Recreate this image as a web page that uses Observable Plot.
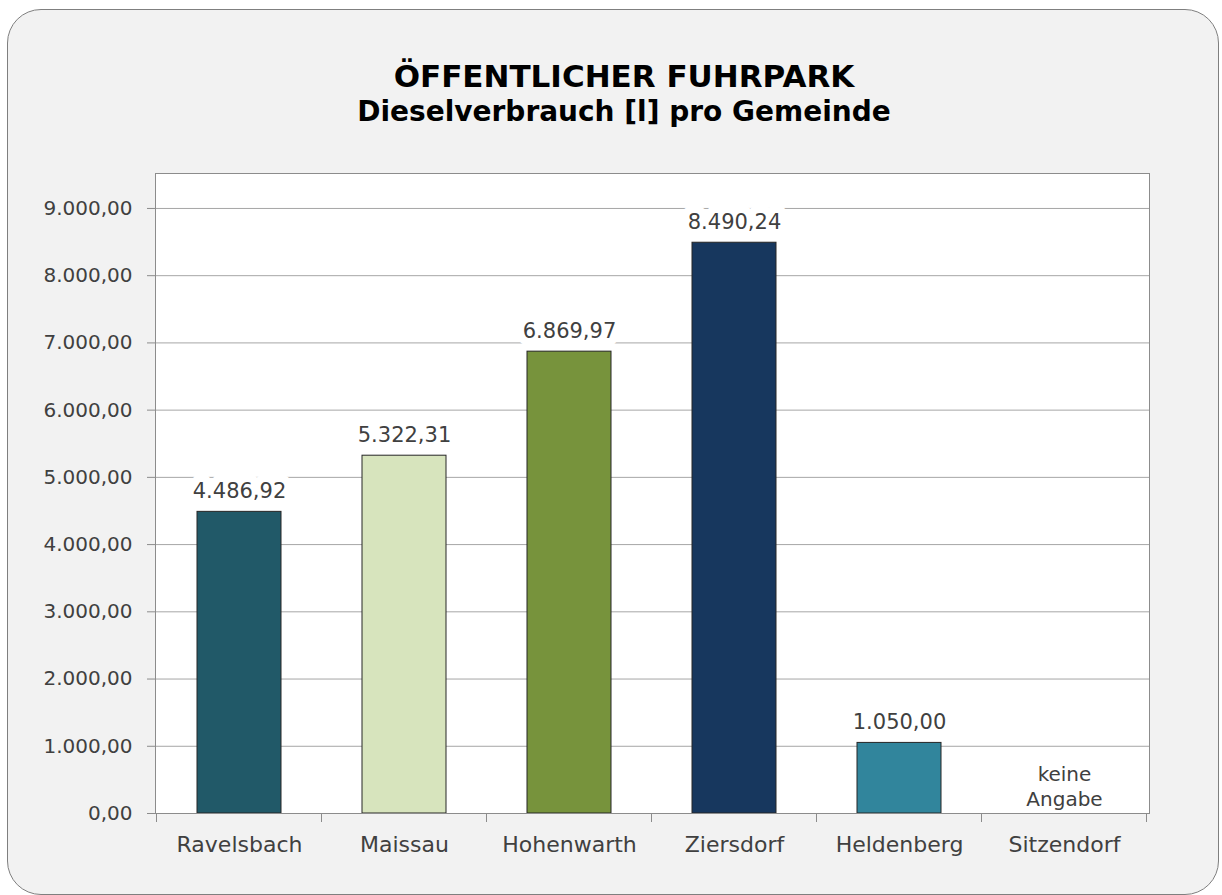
<!DOCTYPE html>
<html>
<head>
<meta charset="utf-8">
<script src="https://cdn.jsdelivr.net/npm/d3@7"></script>
<script src="https://cdn.jsdelivr.net/npm/@observablehq/plot@0.6"></script>
<style>
  html, body { margin: 0; padding: 0; background: #ffffff; }
  body { width: 1222px; height: 895px; position: relative; overflow: hidden; font-family: "DejaVu Sans", sans-serif; }
  #box { position: absolute; left: 7px; top: 9px; width: 1212px; height: 886px; background: #f2f2f2;
         border: 1.5px solid #7f7f7f; border-radius: 34px; box-sizing: border-box; }
  .title { position: absolute; left: 0; width: 1248px; text-align: center; color: #000; font-weight: bold; white-space: nowrap; }
  #t1 { top: 61px; font-size: 31px; line-height: 31px; }
  #t2 { top: 98px; font-size: 28px; line-height: 28px; }
  #chart { position: absolute; left: 0; top: 150px; }
</style>
</head>
<body>
<div id="box"></div>
<div class="title" id="t1">ÖFFENTLICHER FUHRPARK</div>
<div class="title" id="t2">Dieselverbrauch [l] pro Gemeinde</div>
<div id="chart"></div>
<script>
const names = ["Ravelsbach", "Maissau", "Hohenwarth", "Ziersdorf", "Heldenberg", "Sitzendorf"];
const values = [4486.92, 5322.31, 6869.97, 8490.24, 1050.00, null];
const yTicks = [0, 1000, 2000, 3000, 4000, 5000, 6000, 7000, 8000, 9000];
const noDataLabel = "keine\nAngabe";
const palette = ["#215968", "#d7e4bd", "#77933c", "#17375e", "#31859c", "#bfbfbf"];

const de = d3.formatLocale({decimal: ",", thousands: ".", grouping: [3], currency: ["", " €"]});
const fmt = de.format(",.2f");

const rows = names.map((name, i) => ({name, value: values[i]}));
const withValue = rows.filter(d => d.value != null);
const noValue = rows.filter(d => d.value == null);

function boundaryTicks(index, scales, vals, dims) {
  const x = scales.x;
  const step = x.step();
  const gap = (step - x.bandwidth()) / 2;
  const y0 = dims.height - dims.marginBottom;
  const xs = names.map(n => x(n) - gap);
  xs.push(x(names[names.length - 1]) + x.bandwidth() + gap);
  const g = d3.create("svg:g");
  g.selectAll("line").data(xs).join("line")
    .attr("x1", d => d).attr("x2", d => d)
    .attr("y1", y0).attr("y2", y0 + 9)
    .attr("stroke", "#8c8c8c").attr("stroke-width", 1);
  return g.node();
}

const plot = Plot.plot({
  width: 1222,
  height: 745,
  marginTop: 23,
  marginBottom: 82,
  marginLeft: 155,
  marginRight: 73,
  style: {background: "transparent", fontFamily: "DejaVu Sans, sans-serif", color: "#404040"},
  x: {domain: names, paddingInner: 0.49, paddingOuter: 0.245, axis: null, label: null},
  y: {domain: [0, 9520], axis: null, label: null},
  color: {domain: names, range: palette},
  marks: [
    Plot.frame({fill: "white"}),
    Plot.gridY(yTicks, {stroke: "#a6a6a6", strokeOpacity: 1}),
    Plot.barY(withValue, {x: "name", y: "value", fill: "name", stroke: "#262626", strokeWidth: 1}),
    Plot.text(withValue, {x: "name", y: "value", text: d => fmt(d.value), lineAnchor: "bottom", dy: -14,
      fontSize: 21, fill: "#404040", stroke: "white", strokeWidth: 16}),
    Plot.text(noValue, {x: "name", y: () => 0, text: () => noDataLabel, lineAnchor: "bottom", dy: -8,
      fontSize: 20, lineHeight: 1.25, fill: "#404040"}),
    Plot.frame({stroke: "#8c8c8c"}),
    Plot.axisY(yTicks, {tickFormat: fmt, tickSize: 8, tickPadding: 15, fontSize: 20, fill: "#404040", stroke: "#8c8c8c", label: null}),
    Plot.axisX({tickSize: 0, tickPadding: 23, fontSize: 22, fill: "#404040", label: null}),
    boundaryTicks
  ]
});
document.getElementById("chart").appendChild(plot);
</script>
</body>
</html>
